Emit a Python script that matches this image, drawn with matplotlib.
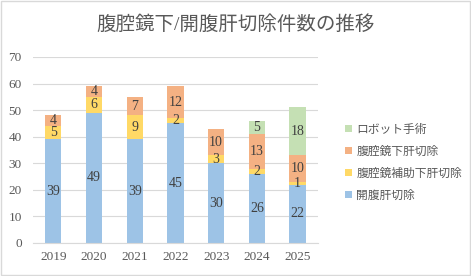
import numpy as np
import matplotlib.pyplot as plt

plt.rcParams['font.family'] = ['Liberation Serif', 'Noto Sans CJK JP', 'DejaVu Sans']

years = ['2019', '2020', '2021', '2022', '2023', '2024', '2025']
open_surg = [39, 49, 39, 45, 30, 26, 22]
lap_assist = [5, 6, 9, 2, 3, 2, 1]
lap = [4, 4, 7, 12, 10, 13, 10]
robot = [0, 0, 0, 0, 0, 5, 18]

series = [
    ('開腹肝切除', open_surg, '#9DC3E6'),
    ('腹腔鏡補助下肝切除', lap_assist, '#FFD966'),
    ('腹腔鏡下肝切除', lap, '#F4B183'),
    ('ロボット手術', robot, '#C5E0B4'),
]

text_col = '#595959'

fig = plt.figure(figsize=(4.71, 2.76), dpi=100)
ax = fig.add_axes([0.070, 0.1196, 0.605, 0.674])

x = np.arange(len(years))
bottom = np.zeros(len(years))
handles = []
for name, vals, col in series:
    vals = np.array(vals)
    b = ax.bar(x, vals, 0.4, bottom=bottom, color=col, label=name, zorder=2)
    handles.append(b)
    for xi, v, b0 in zip(x, vals, bottom):
        if v > 0:
            ax.text(xi, b0 + v / 2, str(v), ha='center', va='center',
                    fontsize=10, color='#404040', zorder=3)
    bottom += vals

ax.set_xlim(-0.5, len(years) - 0.5)
ax.set_ylim(0, 70)
ax.set_yticks(range(0, 71, 10))
ax.set_xticks(x)
ax.set_xticklabels(years)
ax.yaxis.grid(True, color='#D9D9D9', linewidth=0.8, zorder=0)
for s in ['top', 'right', 'left']:
    ax.spines[s].set_visible(False)
ax.spines['bottom'].set_color('#D9D9D9')
ax.tick_params(length=0, colors=text_col, labelsize=9.5)
ax.tick_params(axis='x', pad=6)
ax.tick_params(axis='y', pad=8)

fig.text(0.5, 0.91, '腹腔鏡下/開腹肝切除件数の推移', ha='center', va='center',
         fontsize=14, color=text_col)

leg = fig.legend(handles[::-1], [s[0] for s in series][::-1],
                 loc='upper left', bbox_to_anchor=(0.71, 0.59), frameon=False,
                 handlelength=0.6, handleheight=0.6, handletextpad=0.35,
                 labelspacing=0.85, fontsize=8.5)
for t in leg.get_texts():
    t.set_color(text_col)

fig.patches.append(plt.Rectangle((0.002, 0.003), 0.995, 0.993, transform=fig.transFigure,
                                 fill=False, edgecolor='#D9D9D9', linewidth=1))

fig.savefig('out.png', dpi=100)
